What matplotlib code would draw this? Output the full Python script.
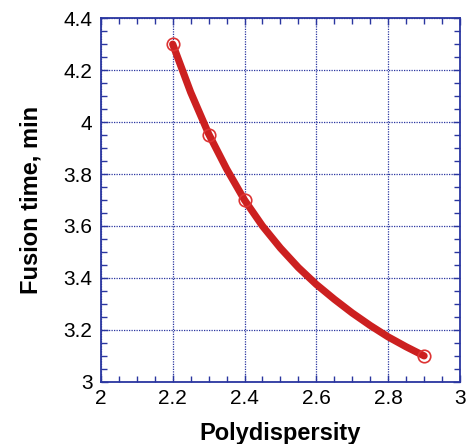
import numpy as np
import matplotlib.pyplot as plt
from matplotlib.ticker import MultipleLocator, FormatStrFormatter

# measured points
pd_pts = [2.2, 2.3, 2.4, 2.9]
ft_pts = [4.3, 3.95, 3.7, 3.1]

# fitted curve
pd_fit = [2.20, 2.25, 2.30, 2.35, 2.40, 2.45, 2.50, 2.55, 2.60,
          2.65, 2.70, 2.75, 2.80, 2.85, 2.90]
ft_fit = [4.30, 4.115, 3.955, 3.82, 3.70, 3.60, 3.515, 3.44, 3.375,
          3.318, 3.265, 3.217, 3.173, 3.135, 3.10]

plt.rcParams['font.family'] = ['Liberation Sans', 'DejaVu Sans']

fig = plt.figure(figsize=(4.67, 4.44), dpi=100)
ax = fig.add_axes([0.216, 0.140, 0.769, 0.819])

blue = '#2a36a0'
ax.plot(pd_fit, ft_fit, color='#cc2020', linewidth=5.2, solid_capstyle='round',
        solid_joinstyle='round', zorder=3)
ax.plot(pd_pts, ft_pts, linestyle='none', marker='o', markersize=9,
        markerfacecolor='none', markeredgecolor='#dd3333', markeredgewidth=1.2, zorder=4)

ax.set_xlim(2, 3)
ax.set_ylim(3, 4.4)
ax.xaxis.set_major_locator(MultipleLocator(0.2))
ax.xaxis.set_minor_locator(MultipleLocator(0.05))
ax.yaxis.set_major_locator(MultipleLocator(0.2))
ax.yaxis.set_minor_locator(MultipleLocator(0.05))
ax.xaxis.set_major_formatter(FormatStrFormatter('%g'))
ax.yaxis.set_major_formatter(FormatStrFormatter('%g'))

ax.grid(True, which='major', color=blue, linestyle=(0, (1, 1)), linewidth=0.9)
for s in ax.spines.values():
    s.set_color(blue)
    s.set_linewidth(1.3)
ax.tick_params(which='both', direction='in', top=True, right=True, color=blue,
               labelsize=15, labelcolor='black')
ax.tick_params(axis='x', pad=5)
ax.tick_params(axis='y', pad=6)
ax.tick_params(which='major', length=5, width=1)
ax.tick_params(which='minor', length=4, width=1)

ax.set_xlabel('Polydispersity', fontsize=17, fontweight='bold', labelpad=10)
ax.set_ylabel('Fusion time, min', fontsize=17, fontweight='bold', labelpad=15)

fig.savefig('out.png', dpi=100)
